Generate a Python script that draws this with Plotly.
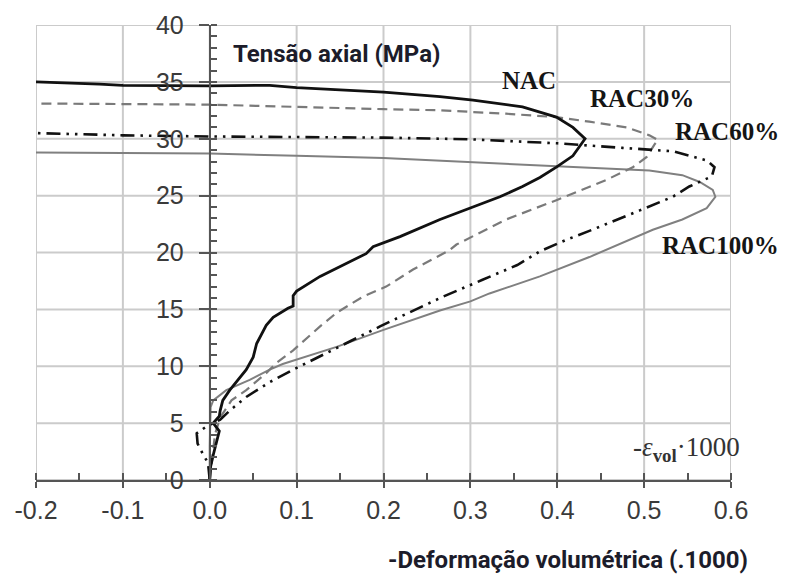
import plotly.graph_objects as go

# ---- data ----
nac_x = [0.0, 0.001, 0.004, 0.008, 0.011, 0.004, 0.011, 0.012, 0.015, 0.023, 0.033, 0.042, 0.050,
         0.054, 0.065, 0.073, 0.090, 0.096, 0.096, 0.100, 0.127, 0.180, 0.188, 0.219, 0.265,
         0.303, 0.334, 0.360, 0.380, 0.399, 0.418, 0.432, 0.418, 0.399, 0.360, 0.303, 0.265,
         0.200, 0.100, 0.069, 0.000, -0.100, -0.127, -0.200]
nac_y = [0.0, 1.2, 2.2, 3.5, 4.3, 5.0, 5.6, 6.1, 7.0, 7.9, 8.8, 9.7, 10.8,
         12.0, 13.6, 14.3, 15.1, 15.3, 16.2, 16.6, 17.9, 19.9, 20.5, 21.4, 22.9,
         24.0, 24.9, 25.8, 26.6, 27.5, 28.5, 30.0, 31.0, 31.9, 32.8, 33.4, 33.7,
         34.1, 34.5, 34.7, 34.65, 34.7, 34.8, 35.0]

rac30_x = [0.0, 0.003, 0.006, 0.012, 0.025, 0.042, 0.065, 0.077, 0.096, 0.127, 0.146, 0.176,
           0.203, 0.234, 0.276, 0.284, 0.341, 0.399, 0.457, 0.487, 0.503, 0.512, 0.516,
           0.506, 0.480, 0.437, 0.399, 0.341, 0.265, 0.200, 0.100, 0.000, -0.100, -0.200]
rac30_y = [0.0, 2.0, 4.0, 5.5, 7.0, 7.9, 9.4, 10.3, 11.4, 13.5, 14.7, 16.1,
           17.0, 18.5, 20.2, 20.7, 22.9, 24.6, 26.4, 27.5, 28.4, 29.5, 29.9,
           30.3, 31.0, 31.5, 31.9, 32.2, 32.5, 32.6, 32.8, 33.0, 33.05, 33.1]

rac60_x = [0.0, -0.002, -0.008, -0.014, -0.015, -0.004, 0.012, 0.023, 0.042, 0.069, 0.096,
           0.127, 0.196, 0.215, 0.268, 0.314, 0.354, 0.380, 0.410, 0.437, 0.468, 0.495,
           0.533, 0.552, 0.578, 0.581, 0.572, 0.533, 0.475, 0.400, 0.300, 0.200, 0.000,
           -0.100, -0.200]
rac60_y = [0.0, 1.5, 2.3, 3.2, 4.1, 4.7, 5.3, 6.1, 7.3, 8.6, 9.7,
           10.9, 13.5, 14.2, 16.1, 17.6, 18.9, 20.1, 21.1, 21.9, 22.9, 23.7,
           24.9, 25.8, 26.7, 27.5, 28.1, 28.9, 29.2, 29.6, 29.95, 30.1, 30.2,
           30.3, 30.5]

rac100_x = [0.0, 0.0, 0.001, 0.004, 0.019, 0.046, 0.069, 0.084, 0.146, 0.200, 0.265, 0.300,
            0.322, 0.357, 0.380, 0.437, 0.510, 0.544, 0.572, 0.582, 0.579, 0.564, 0.544,
            0.506, 0.450, 0.400, 0.300, 0.200, 0.100, 0.000, -0.100, -0.200]
rac100_y = [0.0, 3.0, 6.4, 7.0, 7.9, 8.8, 9.7, 10.2, 11.7, 13.2, 14.9, 15.7,
            16.4, 17.3, 17.9, 19.6, 22.0, 22.9, 23.9, 24.9, 25.5, 26.2, 26.8,
            27.2, 27.4, 27.6, 28.0, 28.3, 28.5, 28.7, 28.75, 28.8]

x_ticks = [-0.2, -0.1, 0.0, 0.1, 0.2, 0.3, 0.4, 0.5, 0.6]
x_tick_labels = ["-0.2", "-0.1", "0.0", "0.1", "0.2", "0.3", "0.4", "0.5", "0.6"]
y_ticks = [0, 5, 10, 15, 20, 25, 30, 35, 40]
y_tick_labels = ["0", "5", "10", "15", "20", "25", "30", "35", "40"]

series_names = ["NAC", "RAC30%", "RAC60%", "RAC100%"]

x_range = [x_ticks[0], x_ticks[-1]]
y_range = [y_ticks[0], y_ticks[-1]]

# ---- figure ----
fig = go.Figure()
fig.add_trace(go.Scatter(x=rac100_x, y=rac100_y, mode="lines", name=series_names[3],
                         line=dict(color="#808080", width=2)))
fig.add_trace(go.Scatter(x=rac30_x, y=rac30_y, mode="lines", name=series_names[1],
                         line=dict(color="#7a7a7a", width=2.2, dash="10px,6px")))
fig.add_trace(go.Scatter(x=rac60_x, y=rac60_y, mode="lines", name=series_names[2],
                         line=dict(color="#111111", width=2.6, dash="14px,6px,2.5px,6px,2.5px,6px")))
fig.add_trace(go.Scatter(x=nac_x, y=nac_y, mode="lines", name=series_names[0],
                         line=dict(color="#111111", width=2.8)))

axis_col = "#555555"
grid_col = "#cbcbcb"
tick_font = dict(family="Liberation Sans, Arial, sans-serif", size=25, color="#3a3a3a")

# grid lines (drawn as shapes at tick positions, beneath the data)
shapes = []
for xv in x_ticks:
    shapes.append(dict(type="line", xref="x", yref="y", x0=xv, x1=xv, y0=y_range[0], y1=y_range[1],
                       line=dict(color=grid_col, width=2), layer="below"))
for yv in y_ticks:
    shapes.append(dict(type="line", xref="x", yref="y", x0=x_range[0], x1=x_range[1], y0=yv, y1=yv,
                       line=dict(color=grid_col, width=2), layer="below"))

fig.update_xaxes(range=x_range, tickmode="array", tickvals=x_ticks, ticktext=x_tick_labels,
                 showline=True, linecolor=axis_col, linewidth=2,
                 ticks="outside", ticklen=6, tickwidth=2, tickcolor=axis_col,
                 showgrid=False, zeroline=False,
                 tickfont=tick_font, ticklabelstandoff=1,
                 minor=dict(tick0=-0.2, dtick=0.05, ticks="inside", ticklen=7, tickwidth=1.5,
                            tickcolor=axis_col, showgrid=False))
fig.update_yaxes(range=y_range, tickmode="array", tickvals=y_ticks, ticktext=y_tick_labels,
                 anchor="free", position=0.25, side="left",
                 showline=True, linecolor=axis_col, linewidth=2,
                 ticks="outside", ticklen=10, tickwidth=2, tickcolor=axis_col,
                 showgrid=False, zeroline=False,
                 tickfont=tick_font, ticklabelstandoff=10,
                 minor=dict(tick0=0, dtick=1, ticks="inside", ticklen=6, tickwidth=1.5,
                            tickcolor=axis_col, showgrid=False))

label_font = dict(family="Liberation Serif, Times New Roman, serif", size=25, color="#151515")
title_font = dict(family="Roboto, Arial, sans-serif", size=24, color="#1c1c2a")

annotations = [
    dict(x=0.368, y=35.1, xref="x", yref="y", text="<b>NAC</b>", showarrow=False, font=label_font),
    dict(x=0.498, y=33.5, xref="x", yref="y", text="<b>RAC30%</b>", showarrow=False, font=label_font),
    dict(x=0.595, y=30.6, xref="x", yref="y", text="<b>RAC60%</b>", showarrow=False, font=label_font),
    dict(x=0.588, y=20.6, xref="x", yref="y", text="<b>RAC100%</b>", showarrow=False, font=label_font),
    dict(x=0.5485, y=2.7, xref="x", yref="y", xanchor="center", yanchor="middle",
         text="-<i>ε</i><sub><b>vol</b></sub>·1000",
         showarrow=False, font=dict(family="Liberation Serif, serif", size=27, color="#333333")),
    dict(x=0.024, y=37.45, xref="x", yref="y", xanchor="left", yanchor="middle",
         text="<b>Tensão axial (MPa)</b>", showarrow=False, font=title_font),
    dict(x=0.765, y=-0.1758, xref="paper", yref="paper", xanchor="center", yanchor="middle",
         text="<b>-Deformação volumétrica (.1000)</b>", showarrow=False, font=title_font),
]

fig.update_layout(width=786, height=574, margin=dict(l=36, r=55, t=25, b=94),
                  plot_bgcolor="white", paper_bgcolor="white", showlegend=False,
                  annotations=annotations, shapes=shapes)

fig.write_html("out.html")
